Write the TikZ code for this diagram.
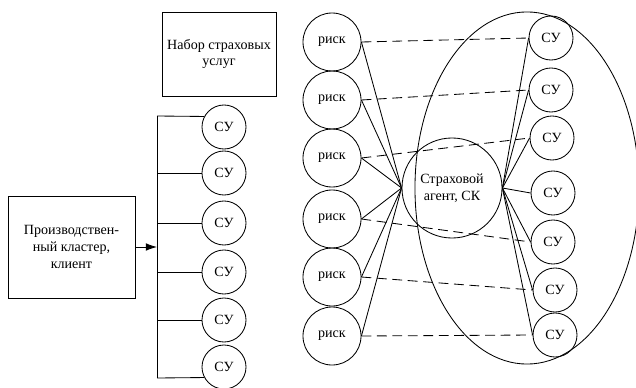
\documentclass[tikz,border=0pt]{standalone}
\usepackage{fontspec}
\setmainfont{Liberation Serif}
\usetikzlibrary{shapes.geometric,arrows.meta}
\begin{document}
\begin{tikzpicture}[
                x=0.025cm, y=-0.025cm,
                every path/.append style={black,line width=0.6pt},
                risk/.style={circle,draw,minimum size=1.45cm,inner sep=0pt},
                su/.style={circle,draw,minimum size=1.1cm,inner sep=0pt},
                box/.style={draw,align=center,inner sep=2pt},
                link/.style={dash pattern=on 7pt off 4pt}
            ]
                \fontsize{10}{12}\selectfont
                \useasboundingbox (0,0) rectangle (636,387);

                \node[box,minimum width=2.85cm,minimum height=2.1cm] (services) at (219,54) {Набор страховых\\услуг};
                \node[box,minimum width=3.175cm,minimum height=2.55cm] (client) at (71.5,247) {Производствен-\\ный кластер,\\клиент};

                % services of the cluster
                \foreach \y [count=\i] in {127,173,223,272,320,367}
                    \node[su] (sl\i) at (224,\y) {СУ};
                \coordinate (top) at (157,116);
                \coordinate (bot) at (157,378);
                \draw (top) -- (bot);
                \draw (top) -- (sl1.152);
                \draw (bot) -- (sl6.208);
                \foreach \i in {2,...,5}
                    \draw (sl\i.west -| top) -- (sl\i.west);
                \draw[-{Latex[length=8pt,width=5.5pt]}] (client.east) -- (client.east -| top);

                % risks, agent and insurance company
                \foreach \y [count=\i] in {42,100,158,219,277,336}
                    \node[risk] (risk\i) at (332,\y) {риск};
                \node[ellipse,draw,minimum width=5.6cm,minimum height=8.8cm,inner sep=0pt] (firm) at (527,188) {};
                \node[circle,draw,minimum size=2.5cm,inner sep=0pt,align=center] (agent) at (452,188) {Страховой\\агент, СК};
                \foreach \x/\y [count=\i] in {551/38,551/90,552/138,553/193,553/242,555/290,555/335}
                    \node[su] (sr\i) at (\x,\y) {СУ};

                \foreach \i in {1,...,6}
                    \draw (risk\i.east) -- (agent.west);
                \foreach \i in {1,...,7}
                    \draw (agent.east) -- (sr\i.west);
                \foreach \i/\j in {1/1,2/2,3/3,4/5,5/6,6/7}
                    \draw[link] (risk\i.east) -- (sr\j.west);
            \end{tikzpicture}
\end{document}
